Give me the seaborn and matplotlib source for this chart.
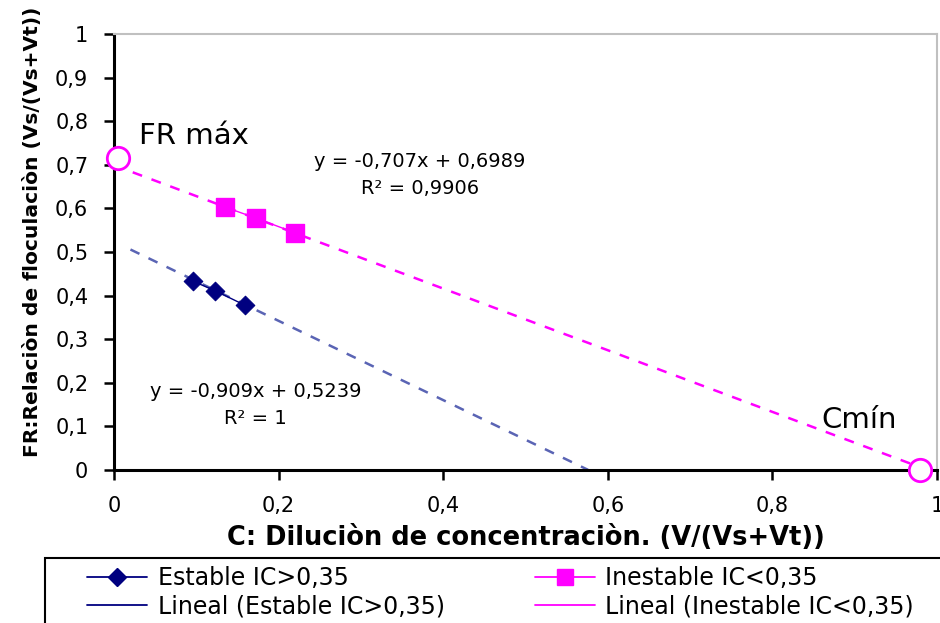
import numpy as np
import pandas as pd
import matplotlib
matplotlib.use("Agg")
import matplotlib.pyplot as plt
from matplotlib.lines import Line2D
from matplotlib.patches import Rectangle
import seaborn as sns

# ---- data ----
estable_x = [0.096, 0.123, 0.159]
estable_y = [0.433, 0.411, 0.378]
inestable_x = [0.135, 0.172, 0.220]
inestable_y = [0.603, 0.578, 0.544]

slope_estable, icpt_estable = -0.909, 0.5239
slope_inest, icpt_inest = -0.707, 0.6989
trend_x_estable = [0.02, 0.576]
trend_x_inest = [0.0, 0.99]

special_x = [0.005, 0.979]
special_y = [0.715, 0.0]
special_labels = ["FR máx", "Cmín"]

x_ticks = [0, 0.2, 0.4, 0.6, 0.8, 1]
x_tick_labels = ["0", "0,2", "0,4", "0,6", "0,8", "1"]
y_ticks = [0, 0.1, 0.2, 0.3, 0.4, 0.5, 0.6, 0.7, 0.8, 0.9, 1]
y_tick_labels = ["0", "0,1", "0,2", "0,3", "0,4", "0,5", "0,6", "0,7", "0,8", "0,9", "1"]

BLUE = "#000080"
BLUE_TREND = "#5a64b4"
PINK = "#ff00ff"

sns.set_style("white")
plt.rcParams["font.family"] = ["DejaVu Sans"]
plt.rcParams["text.color"] = "black"
plt.rcParams["axes.labelcolor"] = "black"
plt.rcParams["xtick.color"] = "black"
plt.rcParams["ytick.color"] = "black"

fig = plt.figure(figsize=(9.4, 6.23), dpi=100)
ax = fig.add_axes([114/940, 1-470/623, 823/940, 436/623])

df_e = pd.DataFrame({"x": estable_x, "y": estable_y})
df_i = pd.DataFrame({"x": inestable_x, "y": inestable_y})
tx_e = np.array(trend_x_estable)
tx_i = np.array(trend_x_inest)
df_te = pd.DataFrame({"x": tx_e, "y": slope_estable * tx_e + icpt_estable})
df_ti = pd.DataFrame({"x": tx_i, "y": slope_inest * tx_i + icpt_inest})

sns.lineplot(data=df_ti, x="x", y="y", ax=ax, color=PINK, lw=1.8,
             linestyle=(0, (4, 4)), zorder=2)
sns.lineplot(data=df_te, x="x", y="y", ax=ax, color=BLUE_TREND, lw=1.8,
             linestyle=(0, (4, 4)), zorder=2)
sns.lineplot(data=df_i, x="x", y="y", ax=ax, color=PINK, lw=1.0, zorder=3)
sns.lineplot(data=df_e, x="x", y="y", ax=ax, color=BLUE, lw=1.0, zorder=3)
sns.scatterplot(data=df_i, x="x", y="y", ax=ax, marker="s", s=150, color=PINK,
                edgecolor=PINK, zorder=4)
sns.scatterplot(data=df_e, x="x", y="y", ax=ax, marker="D", s=90, color=BLUE,
                edgecolor=BLUE, zorder=4)
ax.scatter(special_x, special_y, s=260, facecolor="white", edgecolor=PINK,
           linewidth=2, zorder=5, clip_on=False)

ax.set_xlim(0, 1)
ax.set_ylim(0, 1)
ax.set_xticks(x_ticks)
ax.set_xticklabels(x_tick_labels, fontsize=15)
ax.set_yticks(y_ticks)
ax.set_yticklabels(y_tick_labels, fontsize=15)
ax.tick_params(axis="both", direction="out", length=7.5, width=1.8, color="black",
               left=True, bottom=True)
ax.tick_params(axis="x", pad=11)
ax.tick_params(axis="y", pad=11)
for s in ["left", "bottom"]:
    ax.spines[s].set_color("black")
    ax.spines[s].set_linewidth(2.2)
for s in ["top", "right"]:
    ax.spines[s].set_color("#c0c0c0")
    ax.spines[s].set_linewidth(1.5)

ax.set_xlabel("C: Diluciòn de concentraciòn. (V/(Vs+Vt))", fontsize=18.5,
              fontweight="bold")
ax.xaxis.set_label_coords(0.5, -0.126)
ax.set_ylabel("FR:Relaciòn de floculaciòn (Vs/(Vs+Vt))", fontsize=14.6,
              fontweight="bold")
ax.yaxis.set_label_coords(-0.088, 0.546)

ax.text(0.03, 0.765, special_labels[0], fontsize=21, ha="left", va="center")
ax.text(0.86, 0.115, special_labels[1], fontsize=21, ha="left", va="center")
ax.text(0.372, 0.708, "y = -0,707x + 0,6989", fontsize=14, ha="center", va="center")
ax.text(0.372, 0.645, "R² = 0,9906", fontsize=14, ha="center", va="center")
ax.text(0.172, 0.18, "y = -0,909x + 0,5239", fontsize=14, ha="center", va="center")
ax.text(0.172, 0.118, "R² = 1", fontsize=14, ha="center", va="center")

# legend box (extends past the right edge, as in the reference)
fig.patches.append(Rectangle((45/940, -0.05), 1.0, 1-558/623 + 0.05,
                             transform=fig.transFigure, facecolor="white",
                             edgecolor="black", linewidth=1.5, zorder=0))
handles = [
    Line2D([], [], color=BLUE, marker="D", markersize=9, lw=1.3),
    Line2D([], [], color=BLUE, lw=1.3),
    Line2D([], [], color=PINK, marker="s", markersize=11, lw=1.3),
    Line2D([], [], color=PINK, lw=1.3),
]
labels = ["Estable IC>0,35", "Lineal (Estable IC>0,35)",
          "Inestable IC<0,35", "Lineal (Inestable IC<0,35)"]
leg = fig.legend(handles, labels, ncol=2, loc="upper left",
                 bbox_to_anchor=(87/940, 1-566/623), fontsize=17,
                 frameon=False, handlelength=2.55, handletextpad=0.45,
                 columnspacing=3.8, borderpad=0.0, labelspacing=0.2,
                 borderaxespad=0)

fig.savefig("out.png", dpi=100)
